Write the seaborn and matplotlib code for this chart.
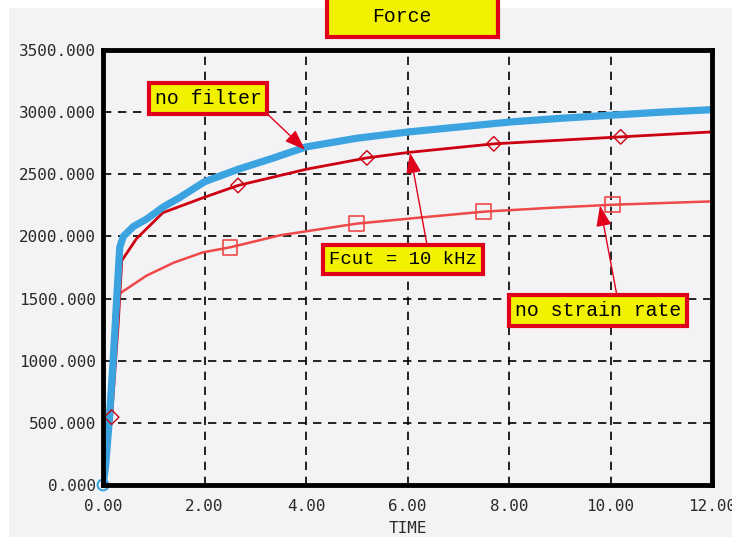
import matplotlib
matplotlib.use("Agg")
import matplotlib.pyplot as plt
from matplotlib.patches import Rectangle
from matplotlib.ticker import FormatStrFormatter
import seaborn as sns
import pandas as pd

# ---------------- data ----------------
t_nofilter = [0.0, 0.05, 0.12, 0.2, 0.27, 0.33, 0.4, 0.6, 0.86, 1.2, 1.5, 2.0,
              2.66, 3.35, 4.0, 5.0, 6.0, 7.0, 8.0, 9.0, 10.0, 11.0, 12.0]
v_nofilter = [0, 150, 500, 1000, 1500, 1912, 2000, 2080, 2140, 2240, 2310, 2440,
              2540, 2630, 2720, 2790, 2840, 2880, 2920, 2950, 2975, 3000, 3020]

t_fcut = [0.0, 0.17, 0.3, 0.37, 0.66, 1.18, 1.97, 2.66, 4.0, 5.2, 6.0, 7.7, 10.2, 12.0]
v_fcut = [0, 546, 1300, 1806, 1982, 2191, 2311, 2410, 2540, 2632, 2675, 2745, 2801, 2841]

t_nosr = [0.0, 0.15, 0.32, 0.86, 1.4, 1.97, 2.5, 3.5, 5.0, 6.2, 7.5, 8.8, 10.04, 12.0]
v_nosr = [0, 700, 1538, 1685, 1790, 1872, 1912, 2010, 2103, 2150, 2199, 2230, 2255, 2282]

# marker positions (subset of the series)
mk_nofilter_t = [0.0]
mk_nofilter_v = [0]
mk_fcut_t = [0.17, 2.66, 5.2, 7.7, 10.2]
mk_fcut_v = [546, 2410, 2632, 2745, 2801]
mk_nosr_t = [2.5, 5.0, 7.5, 10.04]
mk_nosr_v = [1912, 2103, 2199, 2255]

x_ticks = [0, 2, 4, 6, 8, 10, 12]
y_ticks = [0, 500, 1000, 1500, 2000, 2500, 3000, 3500]

title = "Force"
x_label = "TIME"
lbl_nofilter = "no filter"
lbl_fcut = "Fcut = 10 kHz"
lbl_nosr = "no strain rate"

# ---------------- style ----------------
BG = "#f3f3f6"
BLUE = "#3aa3e0"
DARKRED = "#cc0010"
LIGHTRED = "#ef4848"
YELLOW = "#f2f200"
BOXRED = "#e0001b"
TXT = "#2a2a2a"

W, H = 732, 537
fig = plt.figure(figsize=(W / 100, H / 100), dpi=100, facecolor="white")
fig.patches.append(Rectangle((9 / W, 0), 1, 1 - 8 / H, transform=fig.transFigure,
                             facecolor=BG, edgecolor="none", zorder=-10))
ax = fig.add_axes([103 / W, 1 - 485 / H, (712 - 103) / W, (485 - 50) / H])
ax.set_facecolor(BG)

df1 = pd.DataFrame({"t": t_nofilter, "v": v_nofilter})
df2 = pd.DataFrame({"t": t_fcut, "v": v_fcut})
df3 = pd.DataFrame({"t": t_nosr, "v": v_nosr})

sns.lineplot(data=df3, x="t", y="v", ax=ax, color=LIGHTRED, lw=1.8, sort=False,
             estimator=None, zorder=3)
sns.lineplot(data=df2, x="t", y="v", ax=ax, color=DARKRED, lw=2.0, sort=False,
             estimator=None, zorder=3)
sns.lineplot(data=df1, x="t", y="v", ax=ax, color=BLUE, lw=5.2, sort=False,
             estimator=None, zorder=4)

sns.scatterplot(x=mk_nosr_t, y=mk_nosr_v, ax=ax, marker="s", s=110,
                facecolors="none", edgecolor=LIGHTRED, linewidth=1.2, zorder=5)
sns.scatterplot(x=mk_fcut_t, y=mk_fcut_v, ax=ax, marker="D", s=55,
                facecolors="none", edgecolor=DARKRED, linewidth=1.0, zorder=5)
sns.scatterplot(x=mk_nofilter_t, y=mk_nofilter_v, ax=ax, marker="o", s=60,
                facecolors="none", edgecolor=BLUE, linewidth=1.5, zorder=5, clip_on=False)

ax.set_xlim(0, 12)
ax.set_ylim(0, 3500)
ax.set_xticks(x_ticks)
ax.set_yticks(y_ticks)
ax.xaxis.set_major_formatter(FormatStrFormatter("%.2f"))
ax.yaxis.set_major_formatter(FormatStrFormatter("%.3f"))
ax.grid(True, color="black", linestyle=(0, (5, 4)), linewidth=1.2)
ax.set_axisbelow(True)
for s in ax.spines.values():
    s.set_linewidth(3.5)
    s.set_color("black")
    s.set_zorder(6)
ax.tick_params(length=0, labelsize=11.5, labelcolor=TXT)
ax.tick_params(axis="x", pad=10)
ax.tick_params(axis="y", pad=5)
for lab in ax.get_xticklabels() + ax.get_yticklabels():
    lab.set_family("DejaVu Sans Mono")
ax.set_xlabel(x_label, fontsize=11.5, color=TXT, family="DejaVu Sans Mono", labelpad=5)
ax.set_ylabel("")

box = dict(boxstyle="square,pad=0.3", facecolor=YELLOW, edgecolor=BOXRED, lw=3)
arrow = dict(arrowstyle="-|>,head_length=0.9,head_width=0.33", color=BOXRED, lw=1.0,
             shrinkA=0, shrinkB=0, mutation_scale=14)

def px2data(x, y):
    return ((x - 103) / 50.75, (485 - y) / 0.12457)

FS = 14.2
ax.annotate(lbl_nofilter, xy=px2data(305, 149), xytext=px2data(208, 98),
            ha="center", va="center", fontsize=FS, family="Liberation Mono",
            bbox=box, arrowprops=dict(arrow, relpos=(1, 0)), zorder=7)
ax.annotate(lbl_fcut, xy=px2data(410, 152), xytext=px2data(403, 259),
            ha="center", va="center", fontsize=FS * 0.96, family="Liberation Mono",
            bbox=box, arrowprops=dict(arrow, relpos=(0.67, 1)), zorder=7)
ax.annotate(lbl_nosr, xy=px2data(600, 205), xytext=px2data(598, 310),
            ha="center", va="center", fontsize=FS, family="Liberation Mono",
            bbox=box, arrowprops=dict(arrow, relpos=(0.62, 1)), zorder=7)

fig.patches.append(Rectangle((327 / W, 1 - 37 / H), 171 / W, 60 / H, transform=fig.transFigure,
                             facecolor=YELLOW, edgecolor=BOXRED, lw=3, zorder=5))
fig.text(402 / W, 1 - 17 / H, title, ha="center", va="center", fontsize=FS,
         family="Liberation Mono", zorder=6)

fig.savefig("out.png", dpi=100, facecolor="white")
